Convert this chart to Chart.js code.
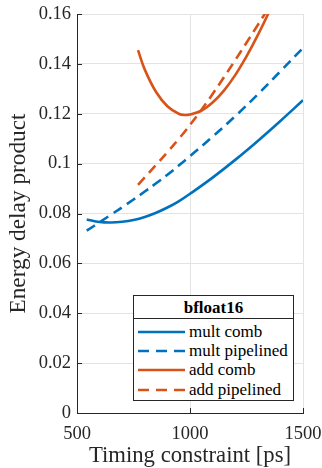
<!DOCTYPE html>
<html><head><meta charset="utf-8">
<script src="https://cdn.jsdelivr.net/npm/chart.js@4/dist/chart.umd.min.js"></script>
<style>
html,body{margin:0;padding:0;background:#fff;}
#wrap{position:relative;width:322px;height:468px;}
#legend{position:absolute;left:133px;top:295px;width:161px;height:106px;box-sizing:border-box;border:1px solid #262626;background:#fff;font-family:"Liberation Serif",serif;font-size:17px;color:#000;}
#legend .ttl{position:absolute;left:0;right:0;top:1px;height:22px;line-height:22px;text-align:center;font-weight:bold;}
#legend .sep{position:absolute;left:0;right:0;top:22px;border-top:1px solid #262626;}
#legend .row{position:absolute;left:4px;height:20px;display:flex;align-items:center;white-space:nowrap;}
#legend svg{margin-right:4px;}
</style></head>
<body><div id="wrap"><canvas id="c" width="322" height="468"></canvas><div id="legend"></div></div>
<script>
const legendTitle = "bfloat16";
const xTitle = "Timing constraint [ps]";
const yTitle = "Energy delay product";
const xTicks = [500, 1000, 1500];
const yTicks = [0, 0.02, 0.04, 0.06, 0.08, 0.1, 0.12, 0.14, 0.16];

const multT     = [543, 600, 650, 700, 750, 800, 850, 900, 950, 1000, 1100, 1200, 1300, 1400, 1500];
const multComb  = [0.0776, 0.0766, 0.0764, 0.0767, 0.0774, 0.0786, 0.0803, 0.0824, 0.0849, 0.0879, 0.0944, 0.1015, 0.1091, 0.1171, 0.1254];
const multPipe  = [0.0731, 0.0765, 0.0795, 0.0825, 0.0856, 0.0888, 0.0921, 0.0955, 0.0992, 0.1030, 0.1108, 0.1190, 0.1278, 0.1370, 0.1464];
const addT      = [770, 800, 850, 900, 950, 980, 1000, 1050, 1100, 1150, 1200, 1250, 1300, 1350, 1400];
const addComb   = [0.1455, 0.1377, 0.1287, 0.1230, 0.1200, 0.1195, 0.1197, 0.1212, 0.1245, 0.1293, 0.1355, 0.1430, 0.1515, 0.1609, 0.1712];
const addPipe   = [0.0915, 0.0945, 0.0995, 0.1046, 0.1099, 0.1132, 0.1155, 0.1215, 0.1279, 0.1346, 0.1415, 0.1485, 0.1556, 0.1628, 0.1701];

const BLUE = '#0072BD', ORANGE = '#D95319';
const pts = (xs, ys) => xs.map((x, i) => ({x, y: ys[i]}));
const DASH = [10, 6];

function ds(label, xs, ys, color, dashed) {
  return {label, data: pts(xs, ys), borderColor: color, backgroundColor: color,
    borderWidth: 2.6, borderDash: dashed ? DASH : [], pointRadius: 0,
    tension: 0.4, fill: false};
}

const datasets = [
  ds('mult comb', multT, multComb, BLUE, false),
  ds('mult pipelined', multT, multPipe, BLUE, true),
  ds('add comb', addT, addComb, ORANGE, false),
  ds('add pipelined', addT, addPipe, ORANGE, true),
];

const FONT = '"Liberation Serif", serif';
const AX = '#262626';

const innerTicks = {
  id: 'innerTicks',
  afterDraw(chart) {
    const {ctx, chartArea: a, scales: {x, y}} = chart;
    ctx.save();
    ctx.strokeStyle = AX; ctx.lineWidth = 1;
    ctx.beginPath();
    yTicks.forEach(v => { const p = Math.round(y.getPixelForValue(v)) + 0.5; ctx.moveTo(a.left, p); ctx.lineTo(a.left + 5, p); });
    xTicks.forEach(v => { const p = Math.round(x.getPixelForValue(v)) + 0.5; ctx.moveTo(p, a.bottom); ctx.lineTo(p, a.bottom - 5); });
    ctx.stroke();
    ctx.restore();
  }
};

const chart = new Chart(document.getElementById('c'), {
  type: 'line',
  data: {datasets},
  options: {
    responsive: false, animation: false, devicePixelRatio: 1,
    layout: {padding: {left: 0, top: 14, right: 19, bottom: 0}},
    plugins: {legend: {display: false}, tooltip: {enabled: false}},
    scales: {
      x: {
        type: 'linear', min: 500, max: 1500,
        afterBuildTicks: s => { s.ticks = xTicks.map(v => ({value: v})); },
        afterFit: s => { s.height = 55; s.paddingLeft = 0; s.paddingRight = 0; },
        ticks: {font: {family: FONT, size: 18.5}, color: AX, padding: 10, maxRotation: 0, autoSkip: false,
          callback: v => String(v)},
        grid: {color: '#e3e3e3', drawTicks: false},
        border: {color: AX, width: 1},
        title: {display: true, text: xTitle, font: {family: FONT, size: 22.7, lineHeight: 1.0}, color: AX, padding: {top: 0, bottom: 1}}
      },
      y: {
        type: 'linear', min: 0, max: 0.16,
        afterBuildTicks: s => { s.ticks = yTicks.map(v => ({value: v})); },
        afterFit: s => { s.width = 77; s.paddingTop = 0; s.paddingBottom = 0; },
        ticks: {font: {family: FONT, size: 18.5}, color: AX, padding: 6,
          callback: v => String(+(+v).toFixed(2))},
        grid: {color: '#e3e3e3', drawTicks: false},
        border: {color: AX, width: 1},
        title: {display: true, text: yTitle, font: {family: FONT, size: 23.3}, color: AX, padding: {top: 5, bottom: 0}}
      }
    }
  },
  plugins: [innerTicks]
});

// HTML legend built from the datasets
const lg = document.getElementById('legend');
lg.innerHTML = '<div class="ttl"></div><div class="sep"></div>';
lg.querySelector('.ttl').textContent = legendTitle;
const rowCenters = [36, 55, 74, 94];
chart.data.datasets.forEach((d, i) => {
  const row = document.createElement('div');
  row.className = 'row';
  row.style.top = (rowCenters[i] - 10) + 'px';
  const dash = d.borderDash.length ? ' stroke-dasharray="11 7"' : '';
  row.innerHTML = '<svg width="47" height="6"><line x1="0" y1="3" x2="47" y2="3" stroke="' + d.borderColor + '" stroke-width="2.6"' + dash + '/></svg><span></span>';
  row.querySelector('span').textContent = d.label;
  lg.appendChild(row);
});
</script>
</body></html>
